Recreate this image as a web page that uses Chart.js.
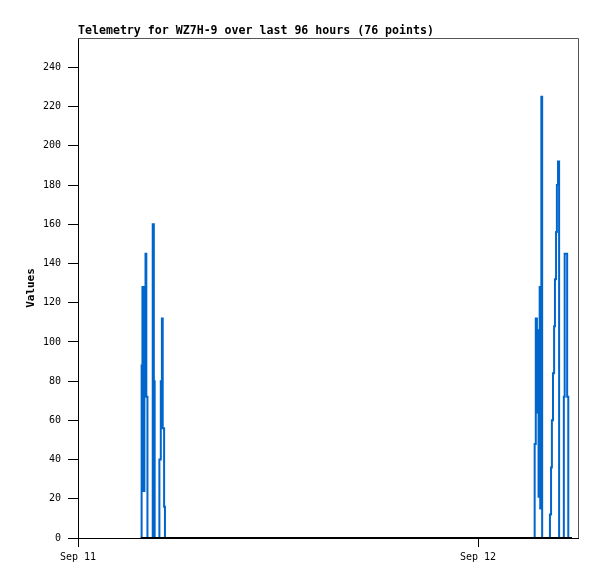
<!DOCTYPE html>
<html>
<head>
<meta charset="utf-8">
<script src="https://cdn.jsdelivr.net/npm/chart.js@4"></script>
<style>
  html, body { margin: 0; padding: 0; background: #fff; }
  canvas { display: block; }
</style>
</head>
<body>
<canvas id="chart" width="597" height="579"></canvas>
<script>
const chartTitle = "Telemetry for WZ7H-9 over last 96 hours (76 points)";

// sample times and channel values
const times = [
  "Sep 11 03:46", "Sep 11 03:49", "Sep 11 03:52", "Sep 11 03:56", "Sep 11 03:59",
  "Sep 11 04:03", "Sep 11 04:06", "Sep 11 04:10", "Sep 11 04:29", "Sep 11 04:33",
  "Sep 11 04:36", "Sep 11 04:53", "Sep 11 04:58", "Sep 11 05:02", "Sep 11 05:05",
  "Sep 11 05:10", "Sep 11 05:13",
  "Sep 12 03:24", "Sep 12 03:28", "Sep 12 03:32", "Sep 12 03:36", "Sep 12 03:38",
  "Sep 12 03:42", "Sep 12 03:44", "Sep 12 03:48", "Sep 12 03:51", "Sep 12 04:19",
  "Sep 12 04:23", "Sep 12 04:26", "Sep 12 04:30", "Sep 12 04:34", "Sep 12 04:37",
  "Sep 12 04:41", "Sep 12 04:44", "Sep 12 04:48", "Sep 12 04:52", "Sep 12 05:09",
  "Sep 12 05:12", "Sep 12 05:21", "Sep 12 05:25", "Sep 12 05:38"
];
const channel1 = [
  0, 88, 128, 24, 120,
  145, 72, 0, 160, 80,
  0, 40, 80, 112, 56,
  16, 0,
  48, 112, 64, 106, 21,
  128, 15, 225, 0, 12,
  36, 60, 84, 108, 132,
  156, 180, 192, 0, 72,
  145, 72, 0, 0
];
const channel2 = [
  0, 0, 0, 0, 0, 0, 0, 0, 0, 0, 0, 0, 0, 0, 0, 0, 0,
  0, 0, 0, 0, 0, 0, 0, 0, 0, 0, 0, 0, 0, 0, 0, 0, 0, 0, 0, 0, 0, 0, 0, 0
];

const dayTicks = [0, 24];
const dayLabels = ["Sep 11", "Sep 12"];
const yTicks = [0, 20, 40, 60, 80, 100, 120, 140, 160, 180, 200, 220, 240];

// hours since Sep 11 00:00
function toHours(s) {
  const parts = s.split(" ");
  const hm = parts[2].split(":");
  return (Number(parts[1]) - 11) * 24 + Number(hm[0]) + Number(hm[1]) / 60;
}

const hours = times.map(toHours);
const pts1 = hours.map((h, i) => ({ x: h, y: channel1[i] }));
const pts2 = hours.map((h, i) => ({ x: h, y: channel2[i] }));

const boxPlugin = {
  id: "box",
  afterDraw(chart) {
    const { ctx, chartArea: a } = chart;
    ctx.save();
    ctx.strokeStyle = "#555";
    ctx.lineWidth = 1;
    ctx.beginPath();
    ctx.moveTo(a.left, a.top + 0.5);
    ctx.lineTo(a.right + 0.5, a.top + 0.5);
    ctx.lineTo(a.right + 0.5, a.bottom);
    ctx.stroke();
    ctx.fillStyle = "#000";
    ctx.font = "bold 11.6px 'DejaVu Sans Mono', monospace";
    ctx.textBaseline = "alphabetic";
    ctx.fillText(chartTitle, a.left, 34);
    ctx.restore();
  }
};

new Chart(document.getElementById("chart"), {
  type: "line",
  data: {
    datasets: [
      {
        data: pts2,
        borderColor: "#000",
        borderWidth: 2,
        pointRadius: 0,
        order: 0
      },
      {
        data: pts1,
        borderColor: "#0066cc",
        borderWidth: 2,
        pointRadius: 0,
        stepped: true,
        order: 1
      }
    ]
  },
  options: {
    responsive: false,
    animation: false,
    devicePixelRatio: 1,
    layout: { padding: { left: 0, right: 19, top: 38, bottom: 0 } },
    plugins: { legend: { display: false }, tooltip: { enabled: false } },
    scales: {
      x: {
        type: "linear",
        min: 0,
        max: 30,
        afterBuildTicks: s => { s.ticks = dayTicks.map(v => ({ value: v })); },
        afterFit: s => { s.height = 41; },
        ticks: {
          callback: v => dayLabels[dayTicks.indexOf(v)],
          color: "#000",
          font: { family: "'DejaVu Sans Mono', monospace", size: 10 },
          padding: 4,
          maxRotation: 0,
          autoSkip: false
        },
        grid: { drawOnChartArea: false, tickLength: 9, color: "#000" },
        border: { color: "#000", width: 1 }
      },
      y: {
        min: 0,
        max: 255,
        afterBuildTicks: s => { s.ticks = yTicks.map(v => ({ value: v })); },
        afterFit: s => { s.width = 78; },
        ticks: {
          color: "#000",
          font: { family: "'DejaVu Sans Mono', monospace", size: 10 },
          padding: 7
        },
        grid: { drawOnChartArea: false, tickLength: 10, color: "#000" },
        border: { color: "#000", width: 1 },
        title: {
          display: true,
          text: "Values",
          color: "#000",
          font: { family: "'DejaVu Sans Mono', monospace", size: 11, weight: "bold" },
          padding: { top: 25, bottom: 0 }
        }
      }
    }
  },
  plugins: [boxPlugin]
});
</script>
</body>
</html>
